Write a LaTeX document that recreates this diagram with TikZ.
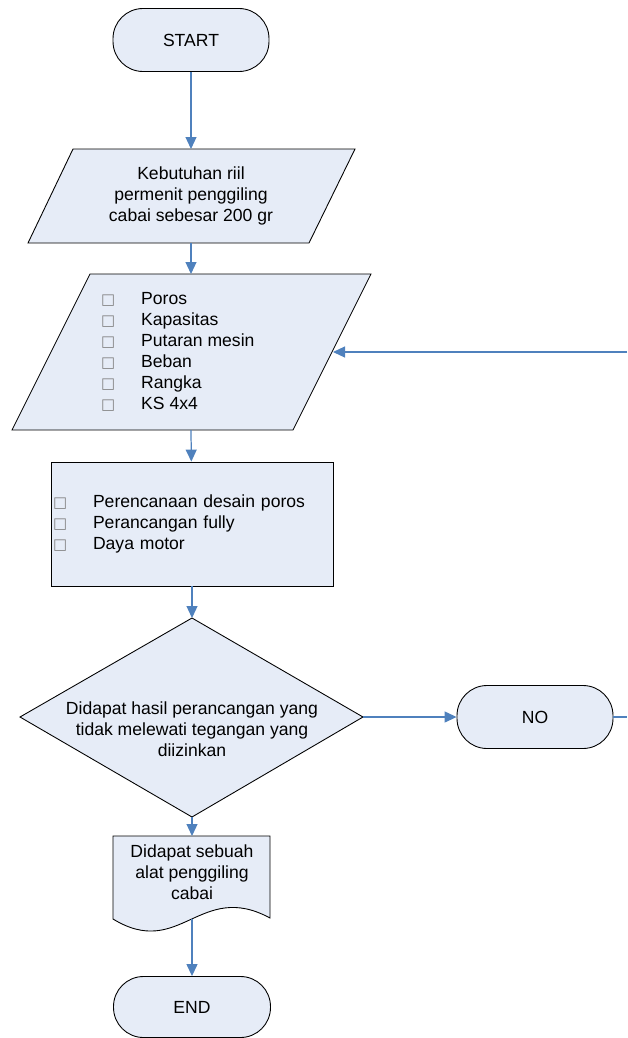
\documentclass[tikz,border=0pt]{standalone}
\usepackage{fontspec}
\setmainfont{Liberation Sans}
\newfontfamily\dejavusym{DejaVu Sans}
\usetikzlibrary{arrows.meta}
\definecolor{fillblue}{RGB}{230,236,247}
\definecolor{lineblue}{RGB}{79,129,189}
\newcommand{\chkbox}{\makebox[0.8cm][l]{\color{gray}\dejavusym\fontsize{8.5}{12}\selectfont □}}
\begin{document}
\begin{tikzpicture}[x=0.02cm, y=-0.02cm,
  shapebox/.style={draw=black, fill=fillblue, line width=0.5pt},
  term/.style={shapebox, rounded corners=0.6cm, minimum width=3.12cm, minimum height=1.26cm},
  flow/.style={draw=lineblue, line width=0.7pt, -{Triangle[length=0.24cm,width=0.22cm]}},
  link/.style={draw=lineblue, line width=0.7pt}]
\useasboundingbox (0,0) rectangle (627,1038);
\node [term] (start) at (191,40) {START};
\draw [shapebox] (73,149) -- (355,149) -- (309,243) -- (28,243) -- cycle;
\coordinate (in1n) at (191,149);
\coordinate (in1s) at (191,243);
\node [align=center] (in1) at (191,196) {Kebutuhan riil\\permenit penggiling\\cabai sebesar 200 gr};
\draw [shapebox] (90,274) -- (371,274) -- (293,430) -- (12,430) -- cycle;
\coordinate (in2n) at (191,274);
\coordinate (in2s) at (191,430);
\coordinate (in2e) at (333,352);
\coordinate (back) at (627,352);
\node [align=left, anchor=west] (in2) at (95,352) {\chkbox Poros\\\chkbox Kapasitas\\\chkbox Putaran mesin\\\chkbox Beban\\\chkbox Rangka\\\chkbox KS 4x4};
\node [shapebox, minimum width=5.64cm, minimum height=2.48cm, text width=5.56cm, inner sep=0.04cm, align=left] (proc) at (192,524) {\chkbox Perencanaan desain poros\\\chkbox Perancangan fully\\\chkbox Daya motor};
\draw [shapebox] (192,618) -- (363,717) -- (192,817) -- (20,717) -- cycle;
\coordinate (dtop) at (192,618);
\coordinate (dright) at (363,717);
\coordinate (dbot) at (192,817);
\node [align=center] (dec) at (192,729) {Didapat hasil perancangan yang\\tidak melewati tegangan yang\\diizinkan};
\node [term] (no) at (535,717) {NO};
\coordinate (noend) at (627,717);
\draw [shapebox] (113,836) -- (270,836) -- (270,918) .. controls (200,880) and (180,960) .. (113,919) -- cycle;
\coordinate (docn) at (192,836);
\coordinate (docs) at (192,919);
\node [align=center] (doc) at (192,872) {Didapat sebuah\\alat penggiling\\cabai};
\node [term, minimum width=3.14cm, minimum height=1.22cm] (end) at (192,1007) {END};
\draw [flow] (start) -- (in1n);
\draw [flow] (in1s) -- (in2n);
\draw [flow] (back) -- (in2e);
\draw [flow] (in2s) -- (proc);
\draw [flow] (proc) -- (dtop);
\draw [flow] (dright) -- (no);
\draw [link] (no) -- (noend);
\draw [flow] (dbot) -- (docn);
\draw [flow] (docs) -- (end);
\end{tikzpicture}
\end{document}
